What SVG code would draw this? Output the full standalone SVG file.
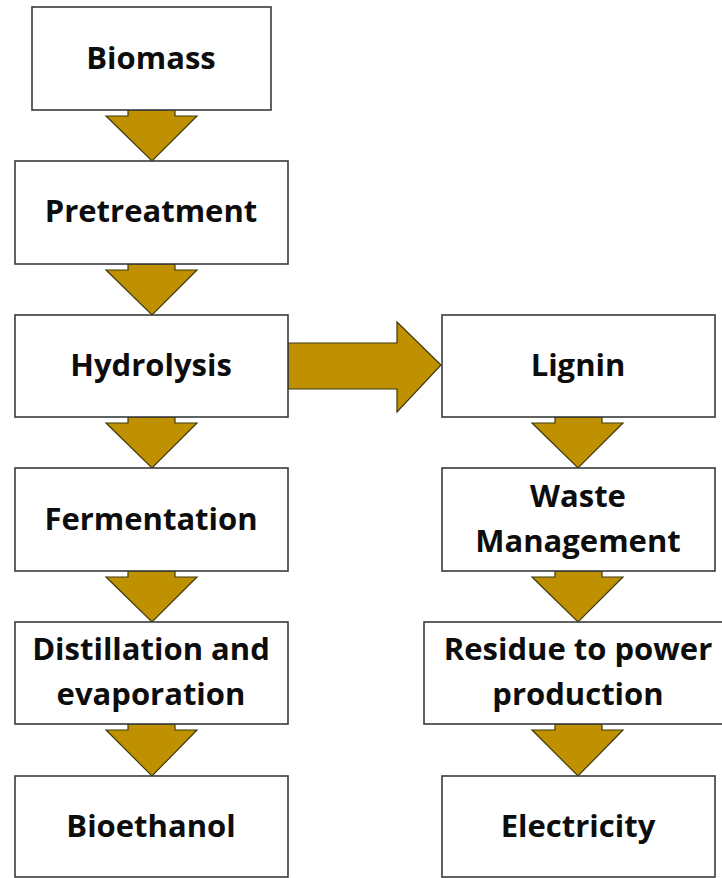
<svg xmlns="http://www.w3.org/2000/svg" width="722" height="878" viewBox="0 0 722 878">
<style>
.box{fill:#fff;stroke:#3a3a3a;stroke-width:1.6}
.arr{fill:#BF9000;stroke:#3d3a10;stroke-width:1.2;stroke-linejoin:miter}
text{font-family:"Open Sans","Liberation Sans",sans-serif;font-weight:bold;font-size:31px;fill:#0d0d0d;text-anchor:middle}
</style>
<rect width="722" height="878" fill="#fff"/>
<g id="connectors">
<path class="arr" d="M128,110 V116 H106 L152,161 L197,116 H175 V110 Z"/>
<path class="arr" d="M128,264 V270 H106 L152,315 L197,270 H175 V264 Z"/>
<path class="arr" d="M128,417 V423 H106 L152,468 L197,423 H175 V417 Z"/>
<path class="arr" d="M128,571 V577 H106 L152,622 L197,577 H175 V571 Z"/>
<path class="arr" d="M128,724 V730 H106 L152,776 L197,730 H175 V724 Z"/>
<path class="arr" d="M288,343 H397 V322 L441,365 L397,412 V389 H288 Z"/>
<path class="arr" d="M555,417 V423 H532 L578,468 L623,423 H602 V417 Z"/>
<path class="arr" d="M555,571 V577 H532 L578,622 L623,577 H602 V571 Z"/>
<path class="arr" d="M555,724 V730 H532 L578,776 L623,730 H602 V724 Z"/>
</g>
<g id="biomass"><rect class="box" x="32" y="7" width="239" height="103"/><text x="151" y="69">Biomass</text></g>
<g id="pretreatment"><rect class="box" x="15" y="161" width="273" height="103"/><text x="151" y="222">Pretreatment</text></g>
<g id="hydrolysis"><rect class="box" x="15" y="315" width="273" height="102"/><text x="151" y="376">Hydrolysis</text></g>
<g id="fermentation"><rect class="box" x="15" y="468" width="273" height="103"/><text x="151" y="530">Fermentation</text></g>
<g id="distillation"><rect class="box" x="15" y="622" width="273" height="102"/><text x="151" y="660">Distillation and</text><text x="151" y="705">evaporation</text></g>
<g id="bioethanol"><rect class="box" x="15" y="776" width="273" height="101"/><text x="151" y="837">Bioethanol</text></g>
<g id="lignin"><rect class="box" x="442" y="315" width="273" height="102"/><text x="578" y="376">Lignin</text></g>
<g id="waste"><rect class="box" x="442" y="468" width="273" height="103"/><text x="578" y="507">Waste</text><text x="578" y="552">Management</text></g>
<g id="residue"><rect class="box" x="424" y="622" width="300" height="102"/><text x="578" y="660">Residue to power</text><text x="578" y="705">production</text></g>
<g id="electricity"><rect class="box" x="442" y="776" width="273" height="101"/><text x="578" y="837">Electricity</text></g>
</svg>
